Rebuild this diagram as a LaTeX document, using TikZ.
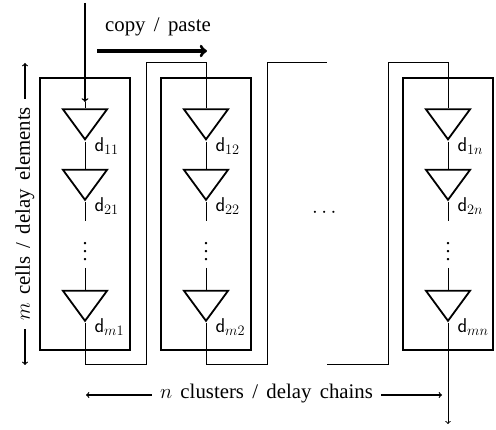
\documentclass[tikz,border=0pt]{standalone}
\usepackage{amsmath,amssymb}
\usepackage[no-math]{fontspec}
\setmainfont[WordSpace=1.6]{Liberation Serif}
\usepackage{tikz}
\usetikzlibrary{positioning,shapes.geometric}

\begin{document}
\begin{tikzpicture}[x=1pt,y=-1pt,>=to,line width=1pt,
                    font=\fontsize{20.8}{24}\selectfont]
  \tikzstyle{cluster}=[draw=black,line width=2pt,minimum width=90pt,minimum height=272pt,inner sep=0pt]
  \tikzstyle{cell}=[draw=black,line width=1.8pt,isosceles triangle,isosceles triangle stretches,
                    shape border rotate=270,minimum width=44pt,minimum height=30pt,inner sep=0pt]
  \tikzstyle{cname}=[inner sep=0pt,anchor=north west,font=\fontsize{20}{24}\selectfont]
  \tikzstyle{dotsv}=[inner sep=0pt,scale=2,font=\normalsize]
  \useasboundingbox (0,0) rectangle (496,430);

  \node[cluster] (C1) at (85,214) {};
  \node[cluster] (C2) at (206,214) {};
  \node[cluster] (Cn) at (448,214) {};

  \node[cell] (a11) at (85,120.5) {};
  \node[cell] (a21) at (85,181) {};
  \node[cell] (am1) at (85,302) {};
  \node[cell] (a12) at (206,120.5) {};
  \node[cell] (a22) at (206,181) {};
  \node[cell] (am2) at (206,302) {};
  \node[cell] (a1n) at (448,120.5) {};
  \node[cell] (a2n) at (448,181) {};
  \node[cell] (amn) at (448,302) {};

  \node[cname] (d11) at (94,137) {\textsf{d}$_{11}$};
  \node[cname] (d21) at (94,197) {\textsf{d}$_{21}$};
  \node[cname] (dm1) at (94,318) {\textsf{d}$_{m1}$};
  \node[cname] (d12) at (215,137) {\textsf{d}$_{12}$};
  \node[cname] (d22) at (215,197) {\textsf{d}$_{22}$};
  \node[cname] (dm2) at (215,318) {\textsf{d}$_{m2}$};
  \node[cname] (d1n) at (457,137) {\textsf{d}$_{1n}$};
  \node[cname] (d2n) at (457,197) {\textsf{d}$_{2n}$};
  \node[cname] (dmn) at (457,318) {\textsf{d}$_{mn}$};

  \node[dotsv] (v1) at (85,246) {$\vdots$};
  \node[dotsv] (v2) at (206,246) {$\vdots$};
  \node[dotsv] (vn) at (448,246) {$\vdots$};
  \node (hdots) at (326,213) {$\cdots$};

  \node (copy) at (158,27) {copy / paste};
  \node[inner sep=8pt] (ntext) at (266.5,394) {$n$ clusters / delay chains};
  \node[rotate=90,inner sep=8pt] (mtext) at (25,214) {$m$ cells / delay elements};

  \coordinate (in) at (85,3);
  \coordinate (intip) at (85,102);
  \coordinate (out) at (448,424);
  \coordinate (cstart) at (97,51);
  \coordinate (cend) at (207,51);
  \coordinate (w1t) at (146,63);
  \coordinate (w1b) at (146,365);
  \coordinate (w2t) at (267,63);
  \coordinate (w2b) at (267,365);
  \coordinate (w2e) at (327,63);
  \coordinate (w3s) at (327,365);
  \coordinate (w3t) at (388,63);
  \coordinate (w3b) at (388,365);
  \coordinate (nl) at (86,395);
  \coordinate (nr) at (442,395);
  \coordinate (mt) at (25,63);
  \coordinate (mb) at (25,365);
  \coordinate (g11) at (85,221);
  \coordinate (g12) at (85,268);
  \coordinate (g21) at (206,221);
  \coordinate (g22) at (206,268);
  \coordinate (gn1) at (448,221);
  \coordinate (gn2) at (448,268);

  \draw[->,line width=1.4pt] (in) -- (intip);
  \draw (intip) -- (a11.lower side);
  \draw (a11.apex) -- (a21.lower side);
  \draw (a21.apex) -- (g11);
  \draw (g12) -- (am1.lower side);
  \draw (am1.apex) |- (w1b) -- (w1t) -| (a12.lower side);
  \draw (a12.apex) -- (a22.lower side);
  \draw (a22.apex) -- (g21);
  \draw (g22) -- (am2.lower side);
  \draw (am2.apex) |- (w2b) -- (w2t) -- (w2e);
  \draw (w3s) -- (w3b) -- (w3t) -| (a1n.lower side);
  \draw (a1n.apex) -- (a2n.lower side);
  \draw (a2n.apex) -- (gn1);
  \draw (gn2) -- (amn.lower side);
  \draw[->] (amn.apex) -- (out);

  \draw[->,line width=3.2pt] (cstart) -- (cend);
  \draw[->,line width=1.2pt] (ntext.west |- nl) -- (nl);
  \draw[->,line width=1.2pt] (ntext.east |- nr) -- (nr);
  \draw[->,line width=1.2pt] (mtext) -- (mt);
  \draw[->,line width=1.2pt] (mtext) -- (mb);
\end{tikzpicture}
\end{document}
